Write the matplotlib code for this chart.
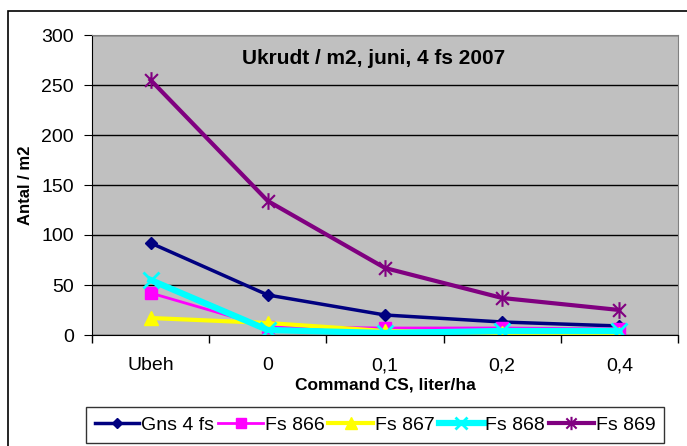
import matplotlib.pyplot as plt
from matplotlib.patches import Rectangle
from matplotlib.path import Path

plt.rcParams['font.family'] = ['Liberation Sans', 'DejaVu Sans']

categories = ["Ubeh", "0", "0,1", "0,2", "0,4"]
gns_4fs = [92, 40, 20, 13, 9]
fs_866 = [42, 8, 7, 7, 6]
fs_867 = [17, 12, 4, 2, 1]
fs_868 = [55, 5, 2, 4, 4]
fs_869 = [255, 134, 67, 37, 25]

# Excel-style asterisk: x plus vertical line
star = Path([(-1, -1), (1, 1), (-1, 1), (1, -1), (0, -1.3), (0, 1.3)],
            [Path.MOVETO, Path.LINETO, Path.MOVETO, Path.LINETO, Path.MOVETO, Path.LINETO])

fig = plt.figure(figsize=(6.87, 4.46), dpi=100)
fig.patches.append(Rectangle((8 / 687, -0.1), 1.0, 1 - 11 / 446 + 0.1,
                             transform=fig.transFigure, fill=False,
                             edgecolor='black', linewidth=1.2))
ax = fig.add_axes([92 / 687, 1 - 335 / 446, 586 / 687, 300 / 446])
ax.set_facecolor('#C0C0C0')

x = list(range(len(categories)))
ax.plot(x, gns_4fs, color='#000080', lw=2.5, marker='D', ms=6, label='Gns 4 fs')
ax.plot(x, fs_866, color='#FF00FF', lw=2, marker='s', ms=9, label='Fs 866')
ax.plot(x, fs_867, color='#FFFF00', lw=3, marker='^', ms=10, label='Fs 867')
ax.plot(x, fs_868, color='#00FFFF', lw=4.5, marker='x', ms=11, mew=2, label='Fs 868')
ax.plot(x, fs_869, color='#800080', lw=3, marker=star, ms=12, mew=1.5, label='Fs 869')

ax.set_xlim(-0.5, len(categories) - 0.5)
ax.set_ylim(0, 300)
ax.set_yticks(range(0, 301, 50))
ax.yaxis.grid(True, color='black', lw=1)
ax.set_axisbelow(True)
ax.set_xticks(x)
ax.set_xticklabels(categories)
ax.set_xticks([i - 0.5 for i in range(len(categories) + 1)], minor=True)
ax.tick_params(axis='x', which='major', length=0, labelsize=14, pad=16)
ax.tick_params(axis='x', which='minor', length=6, width=1)
ax.tick_params(axis='y', labelsize=14, length=6, pad=7)
for s in ['top', 'right']:
    ax.spines[s].set_color('#808080')
ax.spines['left'].set_color('black')
ax.spines['bottom'].set_color('black')

ax.text(374 / 687, 1 - 59 / 446, 'Ukrudt / m2, juni, 4 fs 2007', transform=fig.transFigure,
        ha='center', va='center', fontsize=15, fontweight='bold')
ax.set_ylabel('Antal / m2', fontsize=12, fontweight='bold')
ax.yaxis.set_label_coords(-0.101, 0.5)
ax.set_xlabel('Command CS, liter/ha', fontsize=12.5, fontweight='bold')
ax.xaxis.set_label_coords(0.5, -0.142)

leg = fig.legend(loc='center', bbox_to_anchor=(375 / 687, 1 - 425 / 446), ncol=5,
                 fontsize=14, frameon=True, fancybox=False, edgecolor='black',
                 handlelength=2.3, handletextpad=0.1, columnspacing=0.2,
                 borderpad=0.45, borderaxespad=0, markerscale=0.8)
leg.get_frame().set_linewidth(1)

fig.savefig('out.png', dpi=100)
